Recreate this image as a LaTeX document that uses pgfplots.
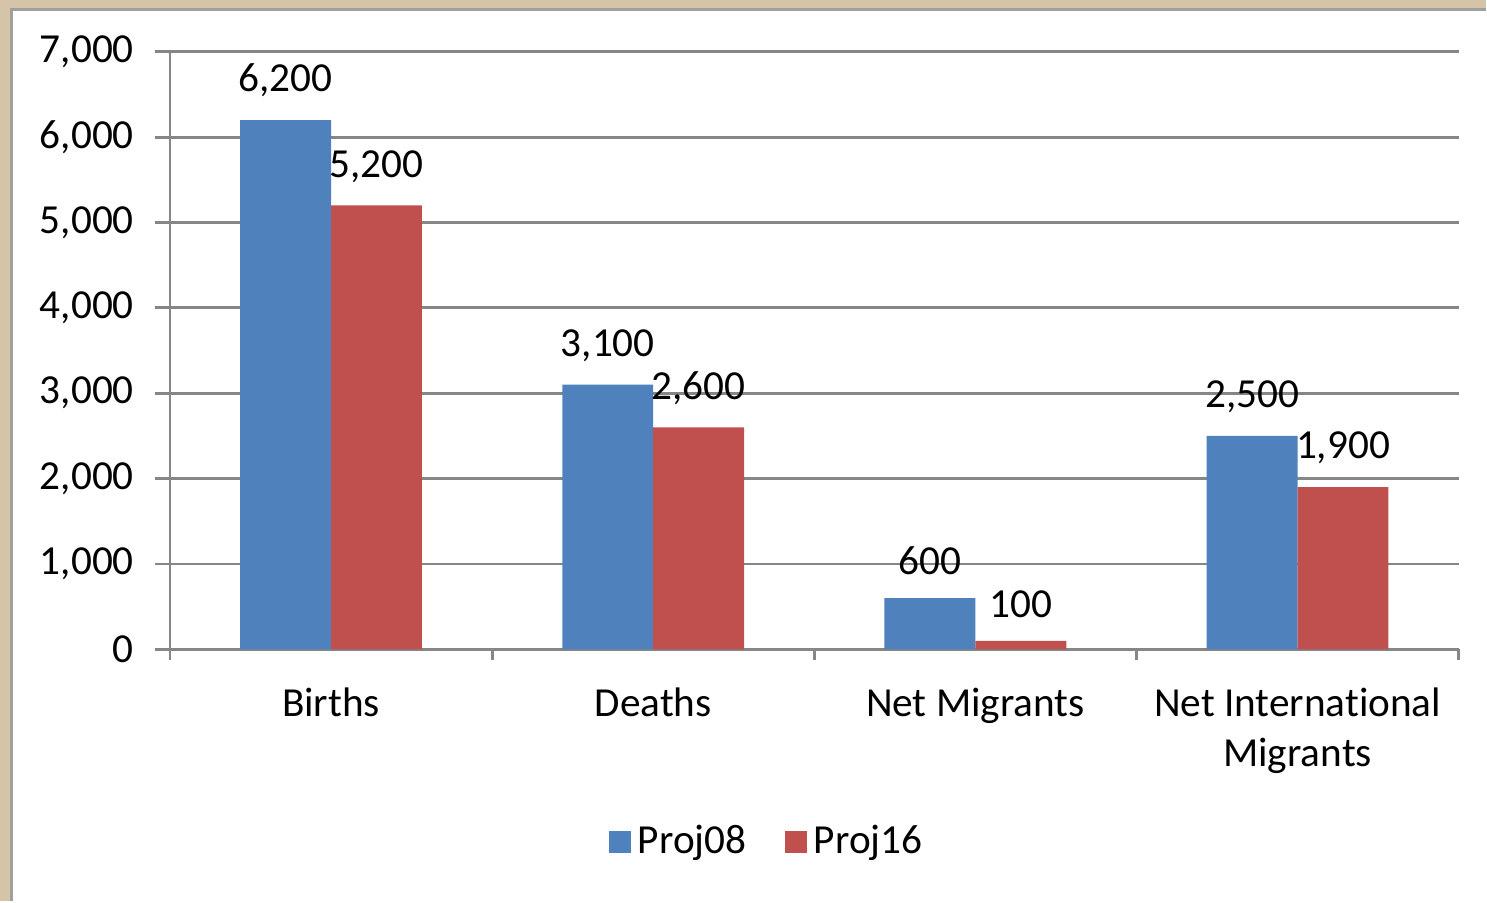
\documentclass[border=0pt]{standalone}
\usepackage{pgfplots}
\pgfplotsset{compat=1.18}
\usepackage{fontspec}
\setmainfont{Carlito}[Ligatures=NoCommon]
\definecolor{projblue}{RGB}{79,129,189}
\definecolor{projred}{RGB}{192,80,77}
\definecolor{frametan}{RGB}{214,196,168}
\definecolor{gridgray}{RGB}{134,134,134}
\newcommand{\lblfont}{\fontsize{11.8}{14.3}\selectfont}

\begin{document}
\begin{tikzpicture}
% page background and frame
\fill[frametan] (-48.6pt,-72pt) rectangle (376.3pt,185.7pt);
\fill[white] (-45.2pt,-72pt) rectangle (376.3pt,182.9pt);
\draw[gray!75, line width=0.8pt] (-45.2pt,-72pt) -- (-45.2pt,182.9pt) -- (376.3pt,182.9pt);
\begin{axis}[
    scale only axis,
    width=368.6pt, height=170.9pt,
    ybar=0pt, bar width=26pt,
    xmin=-0.5, xmax=3.5,
    ymin=0, ymax=7000,
    xtick={0,1,2,3},
    xticklabels={Births, Deaths, Net Migrants, Net International\\Migrants},
    minor xtick={-0.5,0.5,1.5,2.5,3.5},
    ytick={0,1000,...,7000},
    scaled y ticks=false,
    /pgf/number format/1000 sep={,},
    /pgf/number format/assume math mode=true,
    axis lines*=left,
    axis line style={gridgray, line width=0.8pt},
    tick align=outside,
    x tick style={draw=none},
    minor x tick style={draw=gridgray, line width=0.8pt},
    minor tick length=3pt,
    y tick style={gridgray, line width=0.8pt},
    major tick length=4.3pt,
    ymajorgrids,
    grid style={gridgray, line width=0.8pt},
    tick label style={font=\lblfont},
    yticklabel style={xshift=-2.5pt},
    xticklabel style={align=center, yshift=-3.3pt},
    nodes near coords,
    every node near coord/.append style={font=\lblfont, text=black, yshift=3pt},
    legend style={at={(0.465,-0.323)}, anchor=center, draw=none, fill=none,
        font=\lblfont, legend columns=2,
        /tikz/every even column/.append style={column sep=9pt}},
    legend image code/.code={\fill[#1] (0pt,-3.15pt) rectangle (6.3pt,3.15pt);},
]
\addplot[fill=projblue, draw=none] coordinates {(0,6200) (1,3100) (2,600) (3,2500)};
\addplot[fill=projred, draw=none] coordinates {(0,5200) (1,2600) (2,100) (3,1900)};
\legend{Proj08, Proj16}
\end{axis}
\end{tikzpicture}
\end{document}
